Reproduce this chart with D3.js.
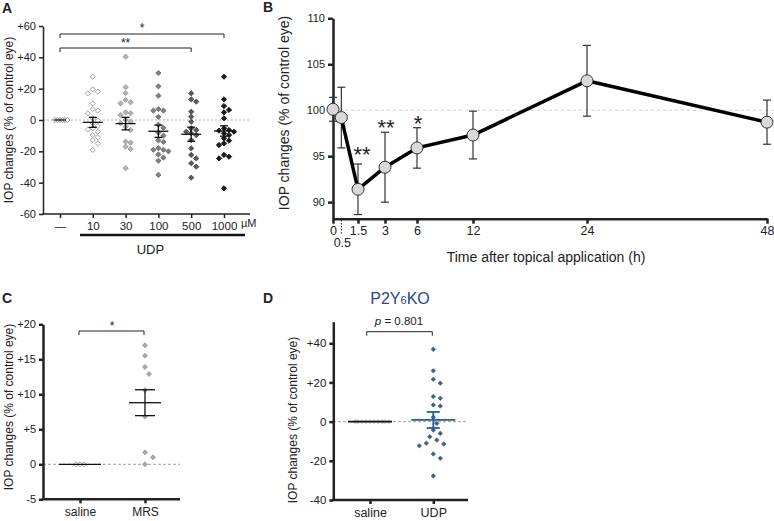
<!DOCTYPE html>
<html><head><meta charset="utf-8">
<script src="https://cdn.jsdelivr.net/npm/d3@7"></script>
<style>body{margin:0;background:#fff}svg{display:block}text{font-family:"Liberation Sans",Arial,sans-serif;fill:#222}</style>
</head><body><svg id="c" width="774" height="521"></svg>
<script>
// ---------- DATA ----------
// Panel A
const aCats = ["—","10","30","100","500","1000"];
const aTicks = [-60,-40,-20,0,20,40,60];
const aCtrl = [0,0,0,0,0,0];
const aU10 = [27.6,19.5,18.1,17,10.6,7,6,4.3,1.1,-0.4,-2.1,-3.8,-5.3,-6,-7.5,-9.6,-11,-12.8,-14.9,-19.1];
const aU30 = [40.4,20.9,17.1,12.8,11.3,10.6,4.9,4.3,3.2,0,-1,-2.1,-4.3,-6.4,-13.8,-14.5,-17,-18.5,-30.8];
const aU100 = [30,21.5,15.5,7,6,6,2,-3,-5,-8,-10,-13,-14,-18,-19,-19,-20,-22,-24,-26,-35];
const aU500 = [17,13.2,11.7,5.3,2.1,-1.1,-5.3,-6.4,-7.5,-8.5,-9.6,-12.8,-18.1,-22.3,-24.5,-27.6,-29.8,-36.8];
const aU1000 = [27.6,13.2,8.9,6.4,4.9,1.1,-5.3,-6.4,-6.8,-7.5,-8.5,-9.6,-11.7,-13.2,-14.9,-16,-22.3,-23.4,-24.5,-43.6];
const aMean = [0,-1.5,-2.3,-7.2,-9.1,-7];
const aSem = [0,3.2,4,3.9,4.5,3.3];
// Panel B
const bTimes = [0,0.5,1.5,3,6,12,24,48];
const bMean = [100.1,99.2,91.4,93.8,95.9,97.3,103.2,98.7];
const bSem = [1.3,3.3,2.75,3.8,2.2,2.6,3.85,2.4];
const bSig = ["","","**","**","*","","",""];
const bYTicks = [90,95,100,105,110];
const bXTicks = [0,1.5,3,6,12,24,48];
// Panel C
const cCats = ["saline","MRS"];
const cSaline = [0,0,0];
const cMRS = [17,15.5,13.9,12.9,10.6,6.8,1.7,1.0,0];
const cMean = [0,8.8];
const cSem = [0,1.85];
const cTicks = [-5,0,5,10,15,20];
// Panel D
const dCats = ["saline","UDP"];
const dSaline = [0,0,0,0,0,0,0,0,0,0];
const dUDP = [36.9,26,21.6,19.6,12.8,11.9,8.5,8,2.2,-0.9,-4.3,-6,-7.7,-9.4,-11,-11.4,-12.3,-16.5,-18.7,-27.7];
const dMean = [0,0.85];
const dSem = [0,4.1];
const dTicks = [-40,-20,0,20,40];

// ---------- HELPERS ----------
const svg = d3.select("#c");
const signed = d => d > 0 ? "+" + d : String(d);
const yLabelText = "IOP changes (% of control eye)";

function swarm(vals, y, cx, dist) {
  const placed = [];
  const order = vals.map((v,i)=>({v,i})).sort((a,b)=>b.v-a.v);
  const out = new Array(vals.length);
  order.forEach(o => {
    const py = y(o.v);
    let px = cx;
    for (let k = 0; k < 60; k++) {
      const cands = k === 0 ? [0] : [k*dist/2, -k*dist/2];
      let found = false;
      for (const off of cands) {
        const x = cx + off;
        if (placed.every(p => Math.hypot(p.x-x, p.y-py) >= dist)) { px = x; found = true; break; }
      }
      if (found) break;
    }
    placed.push({x:px, y:py});
    out[o.i] = {x:px, y:py, v:o.v};
  });
  return out;
}
function diamonds(g, pts, diag, fill, stroke, sw) {
  const sym = d3.symbol(d3.symbolSquare, diag*diag/2);
  g.selectAll(null).data(pts).enter().append("path")
    .attr("d", sym)
    .attr("transform", p => `translate(${p.x},${p.y}) rotate(45)`)
    .attr("fill", fill).attr("stroke", stroke).attr("stroke-width", sw);
}
function meanSem(g, cx, y, m, s, halfMean, halfCap, color, sw) {
  g.append("line").attr("x1",cx-halfMean).attr("x2",cx+halfMean).attr("y1",y(m)).attr("y2",y(m)).attr("stroke",color).attr("stroke-width",sw);
  if (s > 0) {
    g.append("line").attr("x1",cx).attr("x2",cx).attr("y1",y(m+s)).attr("y2",y(m-s)).attr("stroke",color).attr("stroke-width",sw);
    [m+s, m-s].forEach(v => g.append("line").attr("x1",cx-halfCap).attr("x2",cx+halfCap).attr("y1",y(v)).attr("y2",y(v)).attr("stroke",color).attr("stroke-width",sw));
  }
}
function bracket(g, x1, x2, y, drop, sw) {
  g.append("path").attr("d",`M${x1},${y+drop}V${y}H${x2}V${y+drop}`).attr("fill","none").attr("stroke","#222").attr("stroke-width",sw);
}
function styleAxis(sel, sw, fs) {
  sel.selectAll("path,line").attr("stroke","#222").attr("stroke-width",sw);
  sel.selectAll("text").attr("font-size",fs).attr("fill","#222").attr("font-family","'Liberation Sans',Arial,sans-serif");
}
function letter(t, x, y) {
  svg.append("text").attr("x",x).attr("y",y).attr("font-size",14).attr("font-weight","bold").text(t);
}
function yLabel(x, cy, fs) {
  svg.append("text").attr("transform",`translate(${x},${cy}) rotate(-90)`).attr("text-anchor","middle").attr("font-size",fs).text(yLabelText);
}

// ---------- PANEL A ----------
{
  const g = svg.append("g");
  const yA = d3.scaleLinear().domain([-60,60]).range([214,26]);
  const xA = d3.scalePoint().domain(aCats).range([60,224]);
  letter("A", 2, 13);
  yLabel(13, 120, 12);
  g.append("line").attr("x1",43).attr("x2",250).attr("y1",yA(0)).attr("y2",yA(0)).attr("stroke","#999").attr("stroke-dasharray","2,2").attr("stroke-width",0.8);
  const ya = g.append("g").attr("transform","translate(43,0)").call(d3.axisLeft(yA).tickValues(aTicks).tickFormat(signed).tickSize(4).tickSizeOuter(0));
  styleAxis(ya, 1.5, 11);
  const xa = g.append("g").attr("transform","translate(0,214)").call(d3.axisBottom(xA).tickSize(4).tickSizeOuter(0).tickPadding(4));
  xa.select(".domain").remove();
  styleAxis(xa, 1.5, 11.5);
  g.append("line").attr("x1",42.25).attr("x2",250).attr("y1",214).attr("y2",214).attr("stroke","#222").attr("stroke-width",1.5);
  g.append("text").attr("x",xA("1000")+17).attr("y",227).attr("font-size",11).text("µM");
  g.append("line").attr("x1",80).attr("x2",245).attr("y1",235).attr("y2",235).attr("stroke","#111").attr("stroke-width",2.5);
  g.append("text").attr("x",xA("100")-8).attr("y",254).attr("text-anchor","middle").attr("font-size",13).text("UDP");
  const groups = [aCtrl,aU10,aU30,aU100,aU500,aU1000];
  const fills = ["#fff","#fff","#b5b5b5","#808080","#5a5a5a","#1e1e1e"];
  const strokes = ["#8a8a8a","#9a9a9a","#9a9a9a","#707070","#4a4a4a","#111"];
  groups.forEach((vals,i) => {
    const cx = xA(aCats[i]);
    const pts = swarm(vals, yA, cx, i === 0 ? 2.5 : 5);
    diamonds(g, pts, 5.2, fills[i], strokes[i], 0.9);
  });
  groups.forEach((vals,i) => {
    meanSem(g, xA(aCats[i]), yA, aMean[i], aSem[i], i===0?6:10, 4, "#111", 1.3);
  });
  bracket(g, xA("—"), xA("1000"), 34, 4, 1);
  g.append("text").attr("x",(xA("—")+xA("1000"))/2).attr("y",32).attr("text-anchor","middle").attr("font-size",12).text("*");
  bracket(g, xA("—"), xA("500"), 48, 4, 1);
  g.append("text").attr("x",(xA("—")+xA("500"))/2).attr("y",46.5).attr("text-anchor","middle").attr("font-size",12).text("**");
}

// ---------- PANEL B ----------
{
  const g = svg.append("g");
  const yB = d3.scaleLinear().domain([88.2,110]).range([218.7,18.3]);
  const xB = d3.scaleLinear().domain([0,1.5,3,6,12,24,48]).range([333,358,385,417,473,587,767]);
  letter("B", 263, 12);
  yLabel(289, 113, 14);
  g.append("line").attr("x1",333).attr("x2",774).attr("y1",yB(100)).attr("y2",yB(100)).attr("stroke","#c8c8c8").attr("stroke-dasharray","3,3").attr("stroke-width",0.8);
  const ya = g.append("g").attr("transform","translate(333,0)").call(d3.axisLeft(yB).tickValues(bYTicks).tickSize(5).tickSizeOuter(0).tickPadding(3));
  styleAxis(ya, 2.5, 11);
  const xa = g.append("g").attr("transform","translate(0,218.7)").call(d3.axisBottom(xB).tickValues(bXTicks).tickFormat(d3.format("")).tickSize(5).tickSizeOuter(0).tickPadding(2));
  styleAxis(xa, 2.5, 12.5);
  g.append("line").attr("x1",xB(0.5)).attr("x2",xB(0.5)).attr("y1",220).attr("y2",234).attr("stroke","#222").attr("stroke-width",1).attr("stroke-dasharray","1.5,1.5");
  g.append("text").attr("x",xB(0.5)+1).attr("y",247).attr("text-anchor","middle").attr("font-size",12.5).text("0.5");
  g.append("text").attr("x",546).attr("y",262).attr("text-anchor","middle").attr("font-size",14).text("Time after topical application (h)");
  const data = bTimes.map((t,i)=>({t, m:bMean[i], s:bSem[i], sig:bSig[i]}));
  data.forEach(d => {
    const cx = xB(d.t);
    g.append("line").attr("x1",cx).attr("x2",cx).attr("y1",yB(d.m+d.s)).attr("y2",yB(d.m-d.s)).attr("stroke","#333").attr("stroke-width",1.2);
    [d.m+d.s, d.m-d.s].forEach(v => g.append("line").attr("x1",cx-4).attr("x2",cx+4).attr("y1",yB(v)).attr("y2",yB(v)).attr("stroke","#333").attr("stroke-width",1.2));
  });
  g.append("path").datum(data).attr("d", d3.line().x(d=>xB(d.t)).y(d=>yB(d.m))).attr("fill","none").attr("stroke","#000").attr("stroke-width",3.5).attr("stroke-linejoin","round");
  g.selectAll(null).data(data).enter().append("circle").attr("cx",d=>xB(d.t)).attr("cy",d=>yB(d.m)).attr("r",6).attr("fill","#d9d9d9").attr("stroke","#333").attr("stroke-width",1);
  g.selectAll(null).data(data.filter(d=>d.sig)).enter().append("text")
    .attr("x",d=>xB(d.t)+(d.t===1.5?4:1)).attr("y",d=>yB(d.m+d.s)+(d.t===1.5?-2:3)).attr("text-anchor","middle").attr("font-size",22).text(d=>d.sig);
}

// ---------- PANEL C ----------
{
  const g = svg.append("g");
  const yC = d3.scaleLinear().domain([-5,20]).range([499.3,324.3]);
  const xC = d3.scalePoint().domain(cCats).range([80,145]);
  letter("C", 2, 303);
  yLabel(13, 407, 12);
  g.append("line").attr("x1",43).attr("x2",180).attr("y1",yC(0)).attr("y2",yC(0)).attr("stroke","#888").attr("stroke-dasharray","3,2").attr("stroke-width",0.8);
  const ya = g.append("g").attr("transform","translate(43,0)").call(d3.axisLeft(yC).tickValues(cTicks).tickFormat(signed).tickSize(4).tickSizeOuter(0));
  styleAxis(ya, 2.5, 11);
  const xa = g.append("g").attr("transform","translate(0,499.3)").call(d3.axisBottom(xC).tickSize(4).tickSizeOuter(0).tickPadding(4));
  xa.select(".domain").remove();
  styleAxis(xa, 2.5, 12);
  g.append("line").attr("x1",41.8).attr("x2",180).attr("y1",499.3).attr("y2",499.3).attr("stroke","#222").attr("stroke-width",2.5);
  diamonds(g, swarm(cSaline, yC, xC("saline"), 4), 5, "#fff", "#999", 0.9);
  diamonds(g, swarm(cMRS, yC, xC("MRS"), 8), 5, "#a8a8a8", "#999", 0.8);
  meanSem(g, xC("saline"), yC, cMean[0], cSem[0], 21, 10, "#111", 1.3);
  meanSem(g, xC("MRS"), yC, cMean[1], cSem[1], 16, 10, "#111", 1.3);
  bracket(g, xC("saline")-1, xC("MRS")-1, 331, 4, 1);
  g.append("text").attr("x",112).attr("y",330).attr("text-anchor","middle").attr("font-size",12).text("*");
}

// ---------- PANEL D ----------
{
  const g = svg.append("g");
  const yD = d3.scaleLinear().domain([-40,51]).range([500,321.7]);
  const xD = d3.scalePoint().domain(dCats).range([370,433.3]);
  letter("D", 263, 303);
  yLabel(297, 420, 12);
  const t = g.append("text").attr("x",400).attr("y",304).attr("text-anchor","middle").attr("font-size",16).style("fill","#2c4593");
  t.append("tspan").text("P2Y");
  t.append("tspan").attr("font-size",11).text("6");
  t.append("tspan").text("KO");
  const p = g.append("text").attr("x",399).attr("y",325).attr("text-anchor","middle").attr("font-size",11.5);
  p.append("tspan").attr("font-style","italic").text("p");
  p.append("tspan").text(" = 0.801");
  g.append("line").attr("x1",333).attr("x2",468).attr("y1",yD(0)).attr("y2",yD(0)).attr("stroke","#888").attr("stroke-dasharray","3,2").attr("stroke-width",0.8);
  const ya = g.append("g").attr("transform","translate(333.3,0)").call(d3.axisLeft(yD).tickValues(dTicks).tickFormat(signed).tickSize(4).tickSizeOuter(0));
  styleAxis(ya, 2.5, 11.5);
  const xa = g.append("g").attr("transform","translate(0,500)").call(d3.axisBottom(xD).tickSize(4).tickSizeOuter(0).tickPadding(4));
  xa.select(".domain").remove();
  styleAxis(xa, 2.5, 12.5);
  g.append("line").attr("x1",332).attr("x2",468).attr("y1",500).attr("y2",500).attr("stroke","#222").attr("stroke-width",2.5);
  diamonds(g, swarm(dSaline, yD, xD("saline"), 2.7), 4, "#fff", "#999", 0.8);
  meanSem(g, xD("saline"), yD, dMean[0], dSem[0], 22, 6, "#111", 1.6);
  diamonds(g, swarm(dUDP, yD, xD("UDP"), 7), 4.6, "#3a5f8f", "#3a5f8f", 0.5);
  meanSem(g, xD("UDP"), yD, dMean[1], dSem[1], 22, 6.5, "#2d5b8c", 1.8);
  bracket(g, 366.7, 432.3, 331.7, 4, 1);
}
</script></body></html>
